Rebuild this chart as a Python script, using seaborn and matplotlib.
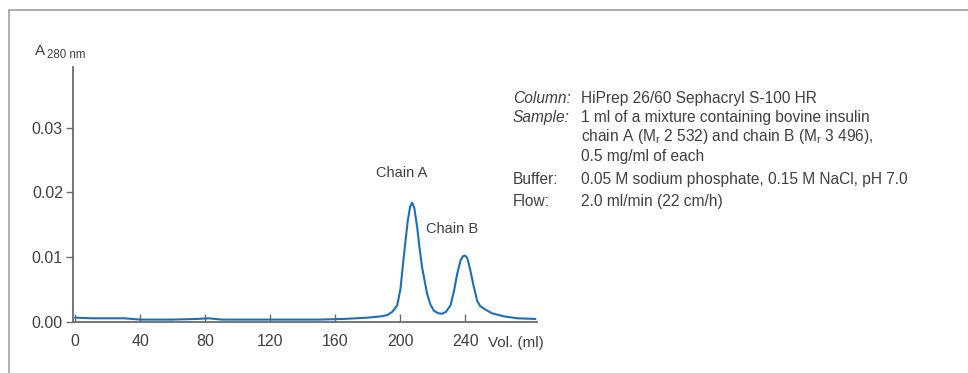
import matplotlib
matplotlib.use('Agg')
import matplotlib.pyplot as plt
from matplotlib.lines import Line2D
import seaborn as sns
import pandas as pd

# ── Data ──────────────────────────────────────────────────────────────────────
vol_ml = [0, 10, 20, 30, 40, 60, 75, 82, 90, 120, 150, 165, 180, 188, 192,
          195, 198, 200, 202, 204.5, 206, 207.2, 208.5, 210.3, 211.8, 213.3,
          216.4, 218.5, 220.5, 223, 225.6, 228, 230.8, 233, 234.9, 237, 238.5,
          239.6, 240.6, 241.5, 243, 245, 247.2, 249, 251.3, 256, 263.6, 272, 283]
a280 = [0.0006, 0.0005, 0.0005, 0.0005, 0.0003, 0.0003, 0.0004, 0.0005, 0.0003,
        0.0003, 0.0003, 0.0004, 0.0006, 0.0008, 0.0010,
        0.0015, 0.0025, 0.0050, 0.0099, 0.0156, 0.0178, 0.0184, 0.0176, 0.0146,
        0.0113, 0.0084, 0.0043, 0.0026, 0.0017, 0.0013, 0.0012, 0.0015, 0.0025,
        0.0048, 0.0074, 0.0095, 0.0101, 0.0102, 0.0100, 0.0095, 0.0079, 0.0055,
        0.0032, 0.0024, 0.0020, 0.0013, 0.0008, 0.0005, 0.0004]

x_ticks = [0, 40, 80, 120, 160, 200, 240]
y_ticks = [0.00, 0.01, 0.02, 0.03]

peak_labels = ['Chain A', 'Chain B']

info_keys = ['Column:', 'Sample:', '', '', 'Buffer:', 'Flow:']
info_vals = ['HiPrep 26/60 Sephacryl S-100 HR',
             '1 ml of a mixture containing bovine insulin',
             r'chain A (M$_{\mathregular{r}}$ 2 532) and chain B (M$_{\mathregular{r}}$ 3 496),',
             '0.5 mg/ml of each',
             '0.05 M sodium phosphate, 0.15 M NaCl, pH 7.0',
             '2.0 ml/min (22 cm/h)']
info_italic = [True, True, False, False, False, False]

df = pd.DataFrame({'vol': vol_ml, 'a280': a280})

# ── Style ─────────────────────────────────────────────────────────────────────
sns.set_theme(style='white')
plt.rcParams['font.family'] = ['Liberation Sans', 'DejaVu Sans']
plt.rcParams['mathtext.fontset'] = 'custom'
plt.rcParams['mathtext.rm'] = 'Liberation Sans'
TXT = '#404040'
AX = '#6b6b6b'

fig = plt.figure(figsize=(9.68, 3.73), dpi=100)
ax = fig.add_axes([0.0751, 0.138, 0.4797, 0.6825])

sns.lineplot(data=df, x='vol', y='a280', ax=ax, color='#1a6fbd', linewidth=1.5)

ax.set_xlim(-1.5, 284)
ax.set_ylim(0, 0.0394)
ax.set_xticks(x_ticks)
ax.set_yticks(y_ticks)
ax.set_xticklabels([str(t) for t in x_ticks])
ax.set_yticklabels([f'{t:.2f}' for t in y_ticks])
ax.set_xlabel('')
ax.set_ylabel('')

for side in ['top', 'right']:
    ax.spines[side].set_visible(False)
for side in ['left', 'bottom']:
    ax.spines[side].set_color(AX)
    ax.spines[side].set_linewidth(1.3)

ax.tick_params(axis='x', direction='in', length=6, width=1, color=AX,
               labelsize=11.5, labelcolor=TXT, pad=9, bottom=True)
ax.tick_params(axis='y', direction='out', length=5, width=1, color=AX,
               labelsize=11.5, labelcolor=TXT, pad=2, left=True)

ax.text(0.894, -0.055, 'Vol. (ml)', transform=ax.transAxes,
        ha='left', va='top', fontsize=11, color=TXT)

# y-axis label "A 280 nm"
fig.text(35 / 968, 1 - 55 / 373, 'A', ha='left', va='baseline', fontsize=11, color=TXT)
fig.text(47 / 968, 1 - 57.5 / 373, '280 nm', ha='left', va='baseline', fontsize=8.3, color=TXT)

# peak labels
ax.text(201, 0.0230, peak_labels[0], ha='center', va='center', fontsize=10.5, color=TXT)
ax.text(215.5, 0.0143, peak_labels[1], ha='left', va='center', fontsize=10.5, color=TXT)

# info block
row_base = [103, 122, 141, 161, 184, 206]
for key, val, ital, ry in zip(info_keys, info_vals, info_italic, row_base):
    yy = 1 - ry / 373
    if key:
        fig.text(513 / 968, yy, key, ha='left', va='baseline', fontsize=11.2,
                 color=TXT, style='italic' if ital else 'normal')
    fig.text(581 / 968, yy, val, ha='left', va='baseline', fontsize=11.2, color=TXT)

# partial frame (top and left)
fig.add_artist(Line2D([9 / 968, 1.0], [1 - 10 / 373, 1 - 10 / 373],
                      transform=fig.transFigure, color='#a8a8a8', linewidth=1.3))
fig.add_artist(Line2D([9 / 968, 9 / 968], [0.0, 1 - 10 / 373],
                      transform=fig.transFigure, color='#a8a8a8', linewidth=1.3))

fig.savefig('out.png', dpi=100)
